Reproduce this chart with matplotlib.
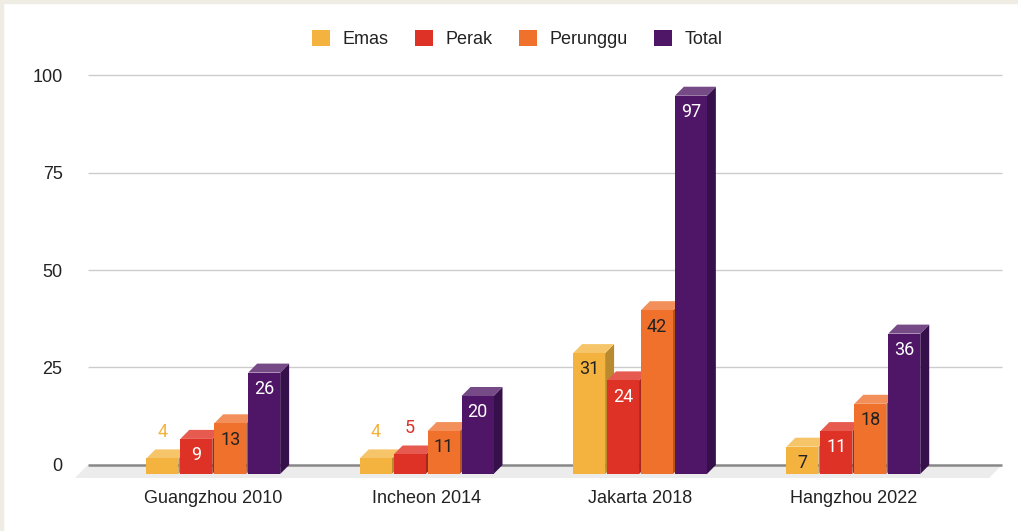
import numpy as np
import matplotlib.pyplot as plt
from matplotlib.patches import Polygon, Patch, Rectangle

games = ['Guangzhou 2010', 'Incheon 2014', 'Jakarta 2018', 'Hangzhou 2022']
emas = [4, 4, 31, 7]
perak = [9, 5, 24, 11]
perunggu = [13, 11, 42, 18]
total = [26, 20, 97, 36]
names = ['Emas', 'Perak', 'Perunggu', 'Total']
series = [emas, perak, perunggu, total]

front = ['#f4b33f', '#de3226', '#ef712b', '#4f1566']
top = ['#f6c56a', '#e65a4f', '#f28f5a', '#764a86']
side = ['#b98a30', '#a5261d', '#b5541f', '#35104a']
label_col = ['#222222', 'white', '#222222', 'white']

plt.rcParams['font.family'] = ['Liberation Sans', 'DejaVu Sans']
plt.rcParams['font.size'] = 13

fig = plt.figure(figsize=(10.18, 5.31), dpi=100)
ax = fig.add_axes([0.0737, 0.0923, 0.9136, 0.7947])
ax.set_xlim(-0.648, 3.711)
ax.set_ylim(-4.36, 103.85)

# fake 3d depth (data units)
dx, dy = 0.042, 2.31
w, pitch = 0.15, 0.159

# floor + gridlines on the back plane
gx0, gx1 = -0.5875, 3.697
ax.add_patch(Polygon([(gx0, 0), (gx1, 0), (gx1 - 0.061, -3.33), (gx0 - 0.061, -3.33)],
                     closed=True, facecolor='#ececec', edgecolor='none', zorder=1.5))
ax.hlines([25, 50, 75, 100], gx0, gx1, color='#cccccc', lw=1, zorder=1)
ax.hlines(0, gx0, gx1, color='#888888', lw=1.8, zorder=1.6)

x = np.arange(len(games))
for j, vals in enumerate(series):
    xc = x + (j - 1.5) * pitch
    ax.bar(xc, vals, width=w, bottom=-dy, color=front[j], zorder=3)
    for xi, v in zip(xc, vals):
        xl, xr = xi - w / 2, xi + w / 2
        ax.add_patch(Polygon([(xl, v - dy), (xr, v - dy), (xr + dx, v), (xl + dx, v)],
                             closed=True, facecolor=top[j], edgecolor='none', zorder=2.5))
        ax.add_patch(Polygon([(xr, -dy), (xr + dx, 0), (xr + dx, v), (xr, v - dy)],
                             closed=True, facecolor=side[j], edgecolor='none', zorder=2))
        if v >= 6:
            ax.text(xi, v - dy - 4.2, str(v), ha='center', va='center', color=label_col[j],
                    family='Roboto', fontsize=13, zorder=4)
        else:
            ax.text(xi, v + 4.5, str(v), ha='center', va='center', color=front[j],
                    family='Roboto', fontsize=13, zorder=4)

ax.set_yticks([0, 25, 50, 75, 100])
ax.set_xticks(x, games)
ax.tick_params(length=0, colors='#222222')
ax.tick_params(axis='y', pad=9)
ax.tick_params(axis='x', pad=6)
for s in ax.spines.values():
    s.set_visible(False)

handles = [Patch(facecolor=c, edgecolor='none', label=n) for c, n in zip(front, names)]
fig.legend(handles=handles, loc='center', bbox_to_anchor=(0.508, 0.9266), ncol=4,
           frameon=False, handlelength=1.0, handleheight=1.0, handletextpad=0.7,
           columnspacing=1.45, labelcolor='#222222')

# thin beige screenshot border on top/left
fig.add_artist(Rectangle((0, 1 - 3 / 531), 1, 3 / 531, color='#efede3', transform=fig.transFigure))
fig.add_artist(Rectangle((0, 0), 3 / 1018, 1, color='#efede3', transform=fig.transFigure))

fig.savefig('out.png', dpi=100)
